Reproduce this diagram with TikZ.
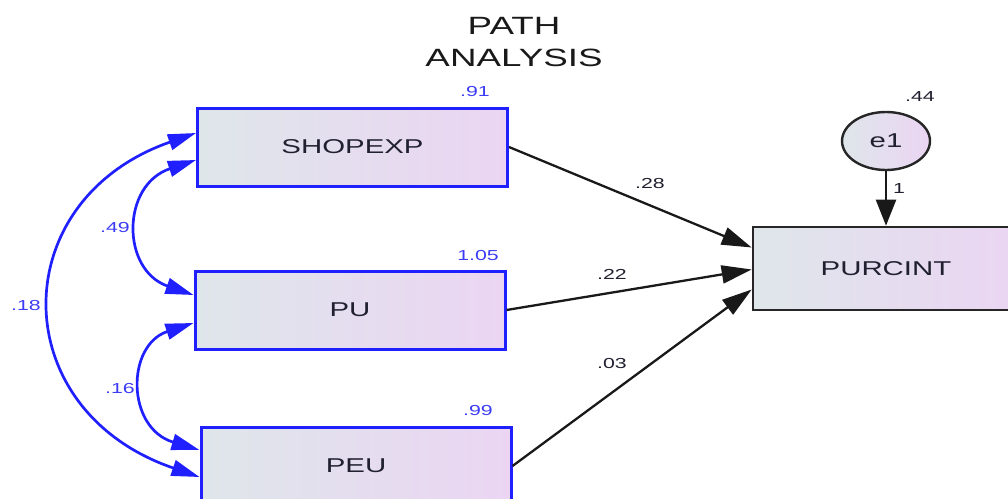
\documentclass[tikz,border=0pt]{standalone}
\usepackage{fontspec}
\setmainfont{Liberation Sans}
\usetikzlibrary{arrows.meta,shapes.geometric}
\definecolor{boxL}{HTML}{DFE6EA}
\definecolor{boxR}{HTML}{EBD5F3}
\definecolor{covblue}{HTML}{2020FF}
\definecolor{numblue}{HTML}{3C3CF5}
\definecolor{inktext}{HTML}{202030}
% labels are set wide, as the diagram tool draws them
\newcommand\wide[1]{\scalebox{1.47}[1]{#1}}
\tikzset{
  obs/.style={rectangle, draw=covblue, line width=3pt, left color=boxL, right color=boxR,
    minimum width=310pt, minimum height=78pt, inner sep=0pt, text=inktext,
    font=\fontsize{20}{24}\selectfont},
  depbox/.style={obs, draw=black!85, line width=2.6pt, minimum width=266pt, minimum height=83pt},
  errnode/.style={ellipse, draw=black!85, line width=2.4pt, left color=boxL, right color=boxR,
    minimum width=88pt, minimum height=58pt, inner sep=0pt, text=inktext,
    font=\fontsize{20}{24}\selectfont},
  num/.style={font=\fontsize{14.5}{16}\selectfont, inner sep=0pt},
  bluenum/.style={num, text=numblue},
  blacknum/.style={num, text=inktext},
  regpath/.style={draw=black!90, line width=2.3pt, -{Triangle[length=30pt,width=18pt]}},
  errpath/.style={draw=black!90, line width=2.3pt, -{Triangle[length=26pt,width=20pt]}},
  covpath/.style={draw=covblue, line width=2.7pt,
    {Triangle[length=28pt,width=16pt]}-{Triangle[length=28pt,width=16pt]}},
  titletext/.style={font=\fontsize{25}{32}\selectfont, text=black!90, align=center, inner sep=0pt}
}
\begin{document}
\begin{tikzpicture}[x=1pt,y=-1pt]
\useasboundingbox (0,0) rectangle (1008,498);
\clip (0,0) rectangle (1008,498);

% title
\node[titletext] (title) at (514,42) {\wide{PATH}\\\wide{ANALYSIS}};

% observed variables
\node[obs] (shop) at (352.5,147) {\wide{SHOPEXP}};
\node[obs] (pu)   at (350,310)   {\wide{PU}};
\node[obs] (peu)  at (356,466)   {\wide{PEU}};
\node[depbox] (purc) at (886,268.5) {\wide{PURCINT}};
\node[errnode] (e1) at (886,141) {\wide{e1}};

% variances
\node[bluenum] (vshop) at (475,92)  {\wide{.91}};
\node[bluenum] (vpu)   at (478,256) {\wide{1.05}};
\node[bluenum] (vpeu)  at (478,411) {\wide{.99}};
\node[blacknum] (ve1)  at (920,97)  {\wide{.44}};

% regression paths
\draw[regpath] (shop.east) -- ([yshift=21pt]purc.west);
\draw[regpath] (pu.east) -- ([yshift=-1pt]purc.west);
\draw[regpath] (peu.east) -- ([yshift=-21pt]purc.west);
\draw[errpath] (e1.south) -- (purc.north);

\node[blacknum] (w1)  at (650,184) {\wide{.28}};
\node[blacknum] (w2)  at (612,274) {\wide{.22}};
\node[blacknum] (w3)  at (612,364) {\wide{.03}};
\node[blacknum] (we1) at (899,189) {\wide{1}};

% covariances
\draw[covpath] ([yshift=-13pt]shop.west) .. controls (121,185) and (121,270) .. ([yshift=15pt]pu.west);
\draw[covpath] ([yshift=-13pt]pu.west) .. controls (126,345) and (126,428) .. ([yshift=16pt]peu.west);
\draw[covpath] ([yshift=14pt]shop.west) .. controls (4,200) and (4,410) .. ([yshift=-11pt]peu.west);

\node[bluenum] (c1) at (115,228) {\wide{.49}};
\node[bluenum] (c2) at (120,389) {\wide{.16}};
\node[bluenum] (c3) at (26,306)  {\wide{.18}};
\end{tikzpicture}
\end{document}
